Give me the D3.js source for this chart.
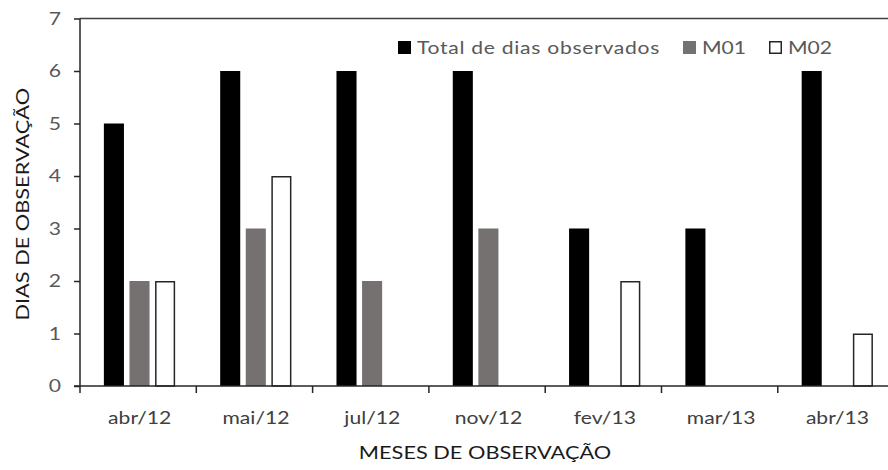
<!DOCTYPE html>
<html>
<head>
<meta charset="utf-8">
<script src="https://cdn.jsdelivr.net/npm/d3@7"></script>
<style>
  html, body { margin: 0; padding: 0; background: #fff; }
  svg { display: block; }
  text { font-family: Lato, "Open Sans", sans-serif; }
</style>
</head>
<body>
<svg id="chart" width="888" height="470"></svg>
<script>
// Observation months and number of days per series
const months = ["abr/12", "mai/12", "jul/12", "nov/12", "fev/13", "mar/13", "abr/13"];
const seriesNames = ["Total de dias observados", "M01", "M02"];
const totalDias = [5, 6, 6, 6, 3, 3, 6];
const m01 = [2, 3, 2, 3, 0, 0, 0];
const m02 = [2, 4, 0, 0, 2, 0, 1];
const yTicks = [0, 1, 2, 3, 4, 5, 6, 7];

const seriesValues = [totalDias, m01, m02];
const fills = ["#000000", "#767171", "#ffffff"];
const strokes = ["#000000", "#767171", "#262626"];

const W = 888, H = 470;
const margin = { left: 80, top: 18.5, bottom: 84 };
const bandW = 116.3;
const plotW = bandW * months.length;
const plotBottom = H - margin.bottom;
const sx = 1.28; // horizontal stretch applied to all text

const svg = d3.select("#chart");

const x = d3.scaleBand()
  .domain(months)
  .range([margin.left, margin.left + plotW])
  .padding(0);

const xs = d3.scaleBand()
  .domain(seriesNames)
  .range([0, x.bandwidth()])
  .paddingInner(0.216)
  .paddingOuter(0.88)
  .align(0.53);

const y = d3.scaleLinear()
  .domain([0, 7])
  .range([plotBottom, margin.top]);

// stretched text helper
function sText(g, tx, ty, str, opts) {
  const t = g.append("g").attr("transform", `translate(${tx},${ty}) scale(${sx},1)`)
    .append("text")
    .text(str)
    .attr("font-size", opts.size)
    .attr("fill", opts.fill)
    .attr("letter-spacing", opts.spacing || 0)
    .attr("text-anchor", opts.anchor || "start");
  return t;
}

// bars
const rows = months.map((m, i) => ({ month: m, vals: seriesNames.map((s, j) => ({ s, j, v: seriesValues[j][i] })) }));
const groups = svg.append("g").selectAll("g").data(rows).join("g")
  .attr("transform", d => `translate(${x(d.month)},0)`);
groups.selectAll("rect")
  .data(d => d.vals.filter(v => v.v > 0))
  .join("rect")
  .attr("x", d => xs(d.s) + (d.j === 2 ? 0.75 : 0))
  .attr("width", d => xs.bandwidth() - (d.j === 2 ? 1.5 : 0))
  .attr("y", d => y(d.v) + (d.j === 2 ? 0.75 : 0))
  .attr("height", d => plotBottom - y(d.v) - (d.j === 2 ? 0.75 : 0))
  .attr("fill", d => fills[d.j])
  .attr("stroke", d => d.j === 2 ? strokes[2] : "none")
  .attr("stroke-width", 1.5);

// top border of plot area
svg.append("line")
  .attr("x1", margin.left).attr("x2", margin.left + plotW)
  .attr("y1", y(7)).attr("y2", y(7))
  .attr("stroke", "#404040").attr("stroke-width", 1.5);

// y axis
const yAxis = svg.append("g")
  .attr("transform", `translate(${margin.left},0)`)
  .call(d3.axisLeft(y).tickValues(yTicks).tickSize(6).tickFormat(""));
yAxis.select(".domain").attr("stroke", "#262626").attr("stroke-width", 1.5)
  .attr("d", `M0,${y(7)}V${plotBottom + 7}`);
yAxis.selectAll(".tick line").attr("stroke", "#262626").attr("stroke-width", 1.5);
yTicks.forEach(v => {
  sText(svg, 61, y(v) + 6, String(v), { size: 16.5, fill: "#595959", anchor: "end" });
});

// x axis: ticks at band boundaries
const xAxis = svg.append("g").attr("transform", `translate(0,${plotBottom})`);
xAxis.append("line")
  .attr("x1", margin.left - 6).attr("x2", margin.left + plotW)
  .attr("stroke", "#262626").attr("stroke-width", 1.5);
xAxis.selectAll("line.tk").data(months.slice(1)).join("line")
  .attr("class", "tk")
  .attr("x1", d => x(d)).attr("x2", d => x(d))
  .attr("y1", 0).attr("y2", 7)
  .attr("stroke", "#262626").attr("stroke-width", 1.5);
months.forEach(m => {
  sText(svg, x(m) + x.bandwidth() / 2 + 1.5, plotBottom + 38, m, { size: 16.5, fill: "#404040", anchor: "middle" });
});

// axis titles
sText(svg, 485, 459, "MESES  DE OBSERVAÇÃO", { size: 17, fill: "#1a1a1a", anchor: "middle" });
svg.append("g").attr("transform", `translate(29,${(margin.top + plotBottom) / 2 + 2}) rotate(-90) scale(${sx},1)`)
  .append("text")
  .text("DIAS  DE OBSERVAÇÃO")
  .attr("font-size", 17)
  .attr("fill", "#1a1a1a")
  .attr("text-anchor", "middle");

// legend
const legendItems = [
  { name: seriesNames[0], j: 0, x: 398, spacing: 0.55 },
  { name: seriesNames[1], j: 1, x: 683, spacing: 0 },
  { name: seriesNames[2], j: 2, x: 769, spacing: 0 }
];
legendItems.forEach(it => {
  svg.append("rect")
    .attr("x", it.x + (it.j === 2 ? 0.75 : 0)).attr("y", 41 + (it.j === 2 ? 0.75 : 0))
    .attr("width", 13 - (it.j === 2 ? 1.5 : 0)).attr("height", 13 - (it.j === 2 ? 1.5 : 0))
    .attr("fill", fills[it.j])
    .attr("stroke", it.j === 2 ? strokes[2] : "none").attr("stroke-width", 1.5);
  sText(svg, it.x + 19, 54, it.name, { size: 16.5, fill: "#595959", spacing: it.spacing });
});
</script>
</body>
</html>
